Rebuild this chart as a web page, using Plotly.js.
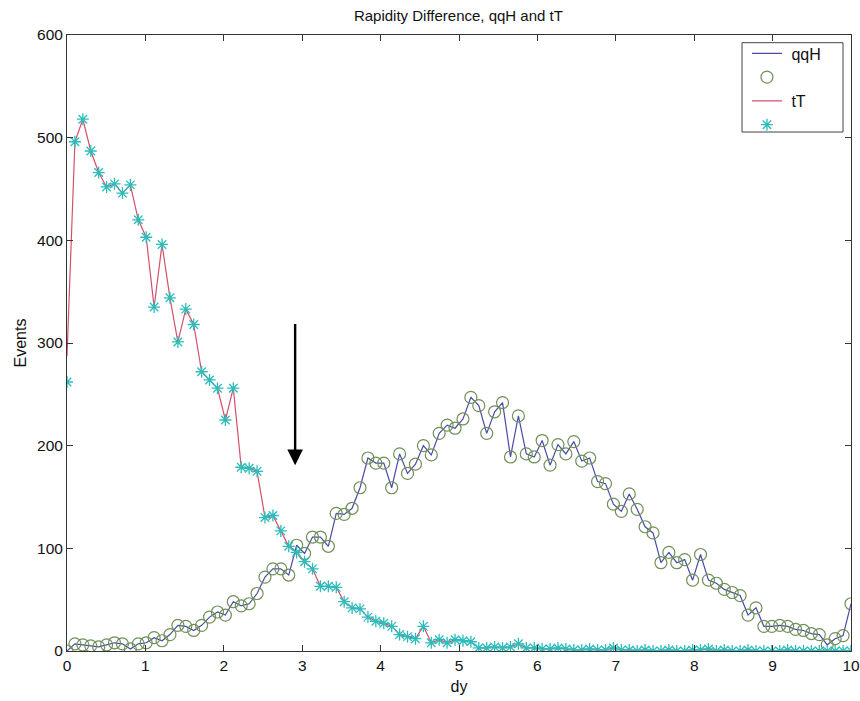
<!DOCTYPE html>
<html>
<head>
<meta charset="utf-8">
<script src="https://cdn.plot.ly/plotly-3.0.1.min.js"></script>
<style>html,body{margin:0;padding:0;background:#fff;}#chart{width:860px;height:701px;}</style>
</head>
<body>
<div id="chart"></div>
<script>
// Rapidity difference samples: 100 points spanning dy = 0 .. 10
const nPoints = 100;
const dyMax = 10;
const dy = [];
for (let i = 0; i < nPoints; i++) dy.push(+(i * dyMax / (nPoints - 1)).toFixed(4));

// qqH events (circles and line)
const qqH = [0, 7, 6, 5, 4, 6, 8, 7, 2, 7,
  8, 13, 10, 16, 25, 24, 20, 25, 33, 38,
  35, 48, 44, 46, 56, 72, 80, 80, 74, 103,
  95, 111, 111, 102, 134, 133, 139, 159, 188, 183,
  183, 159, 192, 173, 182, 200, 191, 212, 220, 217,
  226, 247, 239, 212, 233, 242, 189, 229, 192, 189,
  205, 181, 201, 192, 204, 185, 188, 165, 163, 143,
  136, 153, 138, 121, 115, 86, 96, 86, 89, 69,
  94, 69, 66, 60, 57, 54, 35, 42, 24, 24,
  25, 24, 21, 20, 17, 16, 6, 12, 15, 46];

// tT events (star markers)
const tTMarkers = [262, 496, 518, 487, 466, 452, 455, 446, 454, 420,
  403, 335, 396, 344, 301, 333, 318, 272, 264, 256,
  225, 256, 179, 178, 175, 130, 132, 117, 102, 96,
  87, 80, 63, 63, 62, 48, 42, 41, 33, 29,
  27, 24, 16, 14, 12, 24, 8, 11, 8, 11,
  10, 9, 3, 3, 4, 3, 4, 7, 3, 3,
  2, 2, 3, 2, 1, 1, 2, 1, 1, 3,
  1, 1, 0, 1, 0, 0, 1, 0, 0, 1,
  1, 2, 0, 1, 0, 0, 1, 0, 0, 0,
  0, 1, 0, 0, 0, 0, 0, 0, 0, 0];

// tT line (first bin differs from the marker series)
const tTLine = tTMarkers.slice();
tTLine[0] = 287;

// tick labels
const xTickVals = [0, 1, 2, 3, 4, 5, 6, 7, 8, 9, 10];
const yTickVals = [0, 100, 200, 300, 400, 500, 600];

const legendNames = ['\u00a0qqH', ' ', '\u00a0tT', ' '];

// arrow annotation (data coordinates)
const arrowX = 2.91, arrowTipY = 181, arrowTailY = 320;

const font = 'Liberation Sans, Arial, sans-serif';

const traces = [
  {x: dy, y: qqH, type: 'scatter', mode: 'lines', name: legendNames[0],
   line: {color: '#4a4aa8', width: 1.2}},
  {x: dy, y: qqH, type: 'scatter', mode: 'markers', name: legendNames[1],
   marker: {symbol: 'circle-open', size: 12, color: '#70905a', line: {width: 1.2}}},
  {x: dy, y: tTLine, type: 'scatter', mode: 'lines', name: legendNames[2],
   line: {color: '#d4506a', width: 1.2}},
  {x: dy, y: tTMarkers, type: 'scatter', mode: 'markers', name: legendNames[3],
   marker: {symbol: 'asterisk-open', size: 10, color: '#2cbcbc', line: {width: 1.3, color: '#2cbcbc'}}}
];

const axisCommon = {
  showline: true, mirror: 'ticks', linecolor: '#333', linewidth: 1,
  ticks: 'inside', ticklen: 6, tickcolor: '#333', showgrid: false, zeroline: false,
  ticklabeloverflow: 'allow',
  tickfont: {family: font, size: 15.5, color: '#111'}
};

const layout = {
  width: 860, height: 701,
  margin: {l: 67, r: 9, t: 35, b: 50},
  paper_bgcolor: '#fff', plot_bgcolor: '#fff',
  showlegend: true,
  title: {text: 'Rapidity Difference, qqH and tT', font: {family: font, size: 15, color: '#111'},
          x: 0.533, xanchor: 'center', y: 0.985, yanchor: 'top'},
  xaxis: Object.assign({}, axisCommon, {range: [0, 10], tickmode: 'array', tickvals: xTickVals,
          ticktext: xTickVals.map(String),
          title: {text: 'dy', font: {family: font, size: 16, color: '#111'}, standoff: 8}}),
  yaxis: Object.assign({}, axisCommon, {range: [0, 600], tickmode: 'array', tickvals: yTickVals,
          ticktext: yTickVals.map(String),
          title: {text: 'Events', font: {family: font, size: 16, color: '#111'}, standoff: 6}}),
  legend: {x: 0.8673, y: 0.9977, xanchor: 'left', yanchor: 'top', bgcolor: 'rgba(0,0,0,0)',
           borderwidth: 0, font: {family: font, size: 16, color: '#111'},
           tracegroupgap: 0},
  shapes: [{type: 'rect', xref: 'paper', yref: 'paper', x0: 0.861, x1: 0.9898, y0: 0.8425, y1: 0.9875,
            line: {color: '#444', width: 1}, fillcolor: '#fff', layer: 'above'}],
  annotations: [{x: arrowX, y: arrowTipY, ax: arrowX, ay: arrowTailY, axref: 'x', ayref: 'y',
                 xref: 'x', yref: 'y', text: '', showarrow: true, arrowhead: 2, arrowsize: 1.3,
                 arrowwidth: 2.4, arrowcolor: '#000'}]
};

Plotly.newPlot('chart', traces, layout, {displayModeBar: false, staticPlot: true});
</script>
</body>
</html>
